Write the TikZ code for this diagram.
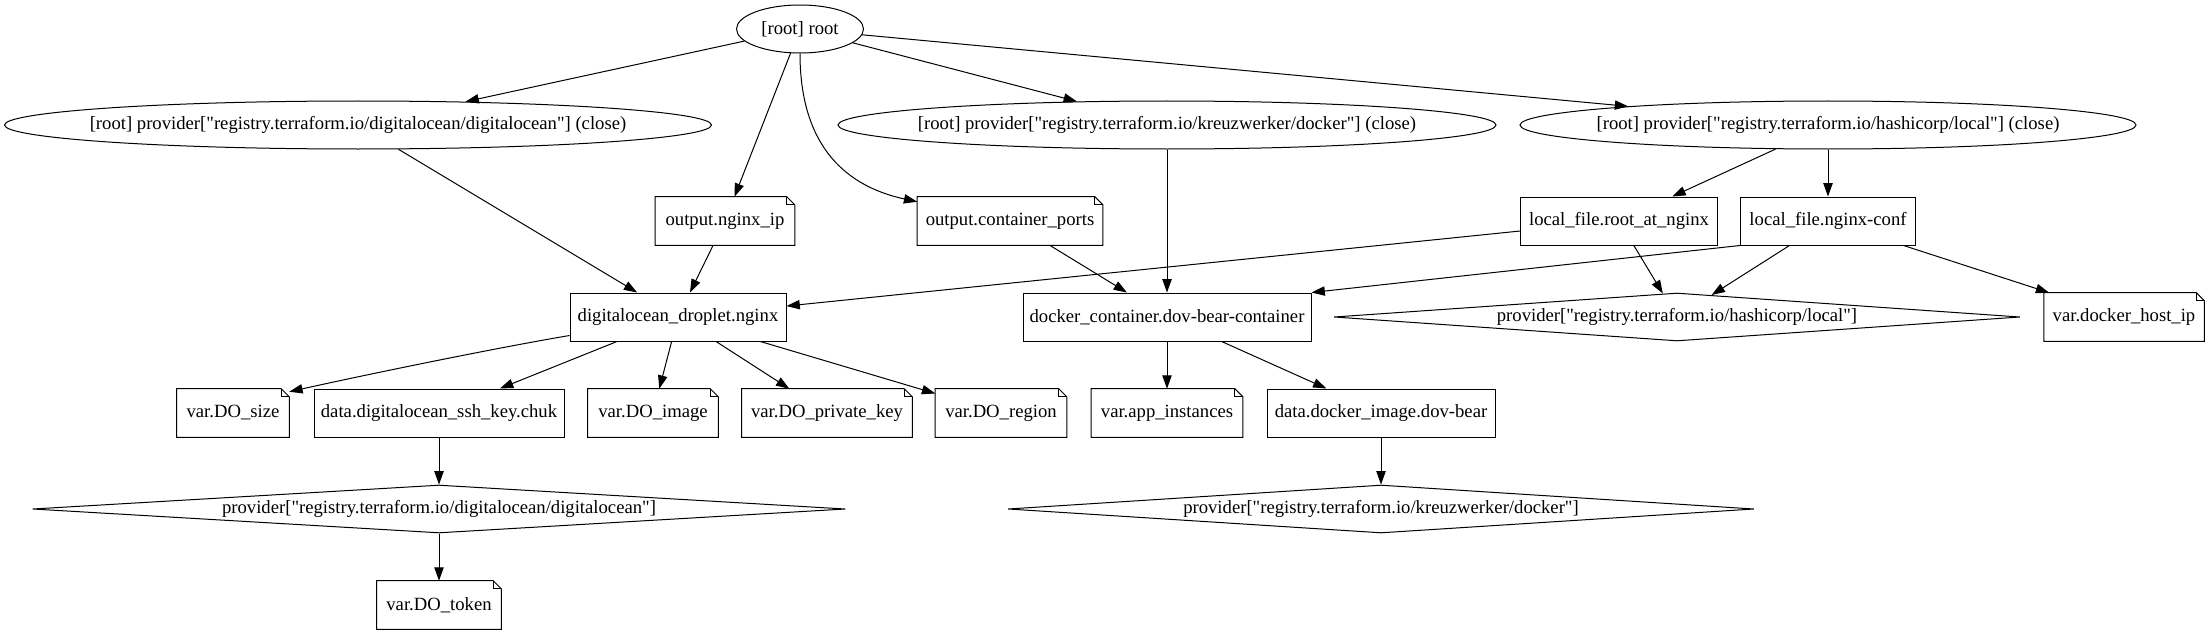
\documentclass[tikz,border=0pt]{standalone}
\usepackage{fontspec}
\setmainfont{Liberation Serif}[Ligatures=TeXOff]
\usetikzlibrary{shapes.geometric,arrows.meta,calc}
\begin{document}
\begin{tikzpicture}[x=0.75pt,y=-0.75pt,
  font=\fontsize{14pt}{16pt}\selectfont,
  ell/.style={ellipse, draw, line width=0.75pt, inner xsep=-30pt, inner ysep=0pt, minimum height=36pt},
  boxn/.style={rectangle, draw, line width=0.75pt, inner sep=0pt, minimum height=36pt},
  noten/.style={rectangle, inner sep=0pt, minimum height=36pt},
  dia/.style={diamond, draw, line width=0.75pt, aspect=14, inner xsep=-40pt, inner ysep=0pt, minimum height=36pt},
  edge/.style={draw, line width=0.75pt, -{Triangle[length=10pt,width=7pt]}},
  notedraw/.style={draw, line width=0.75pt, line join=miter}]
\useasboundingbox (0,0) rectangle (2210,635);
\fill[white] (0,0) rectangle (2210,635);

% row 1
\node[ell, minimum width=95.25pt] (root) at (800,29) {[root] root};
% row 2
\node[ell, minimum width=530.25pt] (pdo) at (358,125) {[root] provider["registry.terraform.io/digitalocean/digitalocean"] (close)};
\node[ell, minimum width=493.5pt] (pdock) at (1167,125) {[root] provider["registry.terraform.io/kreuzwerker/docker"] (close)};
\node[ell, minimum width=462pt] (plocal) at (1828,125) {[root] provider["registry.terraform.io/hashicorp/local"] (close)};
% row 3
\node[noten, minimum width=104.25pt] (onip) at (725,221) {output.nginx\_ip};
\node[noten, minimum width=138.75pt] (ocp) at (1010,221) {output.container\_ports};
\node[boxn, minimum width=147.75pt] (lfr) at (1619,221) {local\_file.root\_at\_nginx};
\node[boxn, minimum width=131.25pt] (lfn) at (1828,221) {local\_file.nginx-conf};
% row 4
\node[boxn, minimum width=162pt] (drop) at (678,317) {digitalocean\_droplet.nginx};
\node[boxn, minimum width=216pt] (dc) at (1167,317) {docker\_container.dov-bear-container};
\node[dia, minimum width=514.5pt] (dlocal) at (1677,317) {provider["registry.terraform.io/hashicorp/local"]};
\node[noten, minimum width=120pt] (vdhi) at (2124,317) {var.docker\_host\_ip};
% row 5
\node[noten, minimum width=84pt] (vsize) at (233,413) {var.DO\_size};
\node[boxn, minimum width=187.5pt] (ssh) at (439,413) {data.digitalocean\_ssh\_key.chuk};
\node[noten, minimum width=97.5pt] (vimg) at (653,413) {var.DO\_image};
\node[noten, minimum width=127.5pt] (vpk) at (827,413) {var.DO\_private\_key};
\node[noten, minimum width=98.25pt] (vreg) at (1001,413) {var.DO\_region};
\node[noten, minimum width=113.25pt] (vapp) at (1167,413) {var.app\_instances};
\node[boxn, minimum width=171pt] (ddi) at (1381,413) {data.docker\_image.dov-bear};
% row 6
\node[dia, minimum width=609.75pt] (ddo) at (439,509) {provider["registry.terraform.io/digitalocean/digitalocean"]};
\node[dia, minimum width=559.5pt] (ddock) at (1381,509) {provider["registry.terraform.io/kreuzwerker/docker"]};
% row 7
\node[noten, minimum width=93pt] (vtok) at (439,605) {var.DO\_token};

% note outlines
\foreach \n in {onip,ocp,vdhi,vsize,vimg,vpk,vreg,vapp,vtok}{
  \draw[notedraw] (\n.south west) -- (\n.north west) -- ([xshift=-6pt]\n.north east)
    -- ([yshift=-6pt]\n.north east) -- (\n.south east) -- cycle;
  \draw[notedraw] ([xshift=-6pt]\n.north east) -- ([xshift=-6pt,yshift=-6pt]\n.north east)
    -- ([yshift=-6pt]\n.north east);
}

% edges
\draw[edge] (root) -- (pdo);
\draw[edge] (root) -- (onip);
\draw[edge] (root.south) .. controls (800,140) and (840,185) .. ($(ocp.north west)+(0,5)$);
\draw[edge] (root) -- (pdock);
\draw[edge] (root) -- (plocal);
\draw[edge] (pdo) -- (drop);
\draw[edge] (onip) -- (drop);
\draw[edge] (ocp) -- (dc);
\draw[edge] (pdock) -- (dc);
\draw[edge] (plocal) -- (lfr);
\draw[edge] (plocal) -- (lfn);
\draw[edge] (lfr) -- (drop);
\draw[edge] (lfr) -- (dlocal);
\draw[edge] (lfn.south west) -- (dc.north east);
\draw[edge] (lfn) -- (dlocal);
\draw[edge] (lfn) -- (vdhi);
\draw[edge] ($(drop.south west)+(0,-6)$) .. controls (490,349) and (360,376) .. ($(vsize.north east)+(0,3)$);
\draw[edge] (drop) -- (ssh);
\draw[edge] (drop) -- (vimg);
\draw[edge] (drop) -- (vpk);
\draw[edge] (drop) -- (vreg);
\draw[edge] (dc) -- (vapp);
\draw[edge] (dc) -- (ddi);
\draw[edge] (ssh) -- (ddo);
\draw[edge] (ddo) -- (vtok);
\draw[edge] (ddi) -- (ddock);
\end{tikzpicture}
\end{document}
